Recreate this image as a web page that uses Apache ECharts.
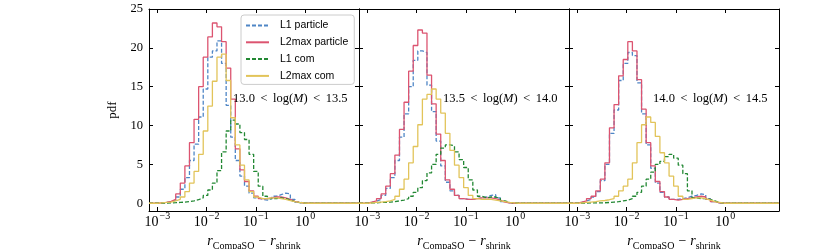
<!DOCTYPE html>
<html><head><meta charset="utf-8">
<script src="https://cdn.jsdelivr.net/npm/echarts@6/dist/echarts.min.js"></script>
<style>html,body{margin:0;padding:0;background:#fff}#c{width:830px;height:249px}</style>
</head><body><div id="c"></div>
<script>
// log10 of histogram bin edges (43 bins)
const binEdgesLog = [-3.000,-2.907,-2.814,-2.721,-2.628,-2.535,-2.442,-2.349,-2.256,-2.163,-2.070,-1.977,-1.884,-1.791,-1.698,-1.605,-1.512,-1.419,-1.326,-1.233,-1.140,-1.047,-0.954,-0.861,-0.768,-0.675,-0.582,-0.489,-0.396,-0.303,-0.210,-0.117,-0.024,0.069,0.162,0.255,0.348,0.441,0.534,0.627,0.720,0.813,0.906,0.999];
const seriesNames = ['L1 particle','L2max particle','L1 com','L2max com'];
const massRanges = [['13.0','13.5'],['13.5','14.0'],['14.0','14.5']];
const xTickExponents = [-3,-2,-1,0];
const yTickValues = [0,5,10,15,20,25];

// Panel 1: 13.0 < log(M) < 13.5
const p1_L1particle   = [0.05,0.1,0.2,0.4,0.8,1.8,3.3,5.5,7.6,11.1,14.7,18.8,19.6,20.9,18.0,12.6,8.5,5.5,3.5,2.2,1.3,0.7,0.5,0.4,0.6,0.9,1.1,1.3,1.2,0.5,0.15,0.05,0,0,0,0,0,0,0,0,0,0,0];
const p1_L2maxparticle= [0.05,0.1,0.25,0.5,1.2,2.6,4.8,7.8,10.8,15.0,18.8,21.4,23.2,22.7,20.8,17.4,13.4,7.0,4.3,2.8,1.6,0.9,0.6,0.6,0.7,0.8,0.8,0.7,0.5,0.25,0.1,0.03,0,0,0,0,0,0,0,0,0,0,0];
const p1_L1com        = [0.02,0.03,0.05,0.07,0.1,0.15,0.2,0.3,0.45,0.7,1.0,1.7,2.6,4.2,6.6,9.3,10.7,10.2,9.1,8.2,6.3,4.1,2.2,0.9,0.6,0.6,0.7,0.6,0.4,0.2,0.08,0.02,0,0,0,0,0,0,0,0,0,0,0];
const p1_L2maxcom     = [0.05,0.1,0.15,0.3,0.5,0.8,1.5,2.6,4.1,6.3,9.3,12.5,15.7,18.8,19.2,15.8,11.0,7.5,4.9,3.0,1.5,0.8,0.6,0.6,0.7,0.7,0.6,0.5,0.35,0.2,0.1,0.03,0,0,0,0,0,0,0,0,0,0,0];

// Panel 2: 13.5 < log(M) < 14.0
const p2_L1particle   = [0.1,0.25,0.5,1.0,1.9,3.3,5.5,8.5,11.5,15.0,18.4,19.6,19.4,15.2,11.8,8.0,4.8,2.7,1.6,1.0,0.6,0.5,0.5,0.6,0.7,0.8,1.0,1.1,0.7,0.2,0.05,0,0,0,0,0,0,0,0,0,0,0,0];
const p2_L2maxparticle= [0.15,0.3,0.6,1.2,2.2,3.8,6.2,9.5,13.0,17.0,20.3,22.3,21.9,16.5,12.8,8.9,5.5,3.0,1.8,1.0,0.6,0.5,0.5,0.6,0.7,0.7,0.7,0.6,0.4,0.15,0.05,0,0,0,0,0,0,0,0,0,0,0,0];
const p2_L1com        = [0.05,0.05,0.1,0.1,0.15,0.2,0.3,0.4,0.6,0.9,1.4,2.0,2.9,3.9,5.0,6.3,7.1,7.5,7.4,6.6,5.6,4.6,3.0,1.7,0.9,0.7,0.8,0.8,0.6,0.3,0.1,0.05,0,0,0,0,0,0,0,0,0,0,0];
const p2_L2maxcom     = [0.05,0.1,0.15,0.2,0.3,0.5,0.9,1.8,3.1,5.2,7.3,10.1,13.4,14.0,14.7,13.4,11.6,9.0,6.8,4.9,3.3,2.0,1.0,0.6,0.5,0.5,0.5,0.4,0.3,0.2,0.1,0.05,0,0,0,0,0,0,0,0,0,0,0];

// Panel 3: 14.0 < log(M) < 14.5
const p3_L1particle   = [0.1,0.3,0.5,0.8,1.5,2.9,5.0,9.0,12.0,15.8,18.0,19.4,19.0,15.5,11.5,7.5,4.5,2.6,1.4,0.8,0.5,0.5,0.6,0.7,0.9,1.0,1.2,1.1,0.6,0.2,0.05,0,0,0,0,0,0,0,0,0,0,0,0];
const p3_L2maxparticle= [0.15,0.3,0.6,0.9,1.6,3.1,5.2,9.7,12.7,16.4,18.5,20.8,19.6,15.9,12.1,7.8,4.8,2.8,1.5,0.8,0.5,0.4,0.5,0.6,0.7,0.8,0.9,0.8,0.5,0.2,0.05,0,0,0,0,0,0,0,0,0,0,0,0];
const p3_L1com        = [0.02,0.03,0.04,0.05,0.05,0.06,0.1,0.15,0.2,0.3,0.4,0.6,0.9,1.4,2.2,3.1,4.0,5.0,5.4,6.0,6.3,5.8,4.9,3.8,1.6,0.7,0.6,0.6,0.5,0.3,0.1,0,0,0,0,0,0,0,0,0,0,0,0];
const p3_L2maxcom     = [0.05,0.1,0.15,0.2,0.3,0.35,0.45,0.6,0.9,1.6,2.2,3.1,5.2,7.8,10.1,11.1,10.4,8.6,6.5,5.2,3.5,2.2,0.9,0.5,0.6,0.7,0.7,0.6,0.4,0.2,0.1,0,0,0,0,0,0,0,0,0,0,0,0];

const panels = [
  [p1_L1particle, p1_L2maxparticle, p1_L1com, p1_L2maxcom],
  [p2_L1particle, p2_L2maxparticle, p2_L1com, p2_L2maxcom],
  [p3_L1particle, p3_L2maxparticle, p3_L1com, p3_L2maxcom]
];

const X_MIN = -3.17, X_MAX = 1.09, Y_MIN = -1, Y_MAX = 25;
const colors = ['#4f86c6','#dc5470','#228833','#e2c45a'];
const dashed = [true,false,true,false];
const SERIF = '"Liberation Serif", "DejaVu Serif", serif';
const SANS = '"Liberation Sans", "DejaVu Sans", sans-serif';

function stepPoints(vals){
  const pts = [[X_MIN,0],[binEdgesLog[0],0]];
  for (let k=0;k<vals.length;k++){
    pts.push([binEdgesLog[k],vals[k]],[binEdgesLog[k+1],vals[k]]);
  }
  pts.push([binEdgesLog[vals.length],0],[X_MAX,0]);
  return pts;
}

const PANEL_LEFT = 149, PANEL_W = 210, TOP = 9, H = 202;
const grids=[], xAxes=[], yAxes=[], series=[], graphics=[];
const tickStyle = {show:true, inside:true, length:4, lineStyle:{color:'#000', width:1}};
const lineStyle = {show:true, onZero:false, lineStyle:{color:'#000', width:1}};
const supRich = {
  b:{fontFamily:SERIF, fontSize:14, color:'#000', verticalAlign:'bottom', padding:[4,0,0,0]},
  s:{fontFamily:SERIF, fontSize:10, color:'#000', verticalAlign:'top', padding:[0,0,0,1]}
};
for (let i=0;i<3;i++){
  grids.push({left:PANEL_LEFT+i*PANEL_W, top:TOP, width:PANEL_W, height:H, containLabel:false, outerBoundsMode:'none'});
  xAxes.push({
    gridIndex:i, type:'value', position:'bottom', min:X_MIN, max:X_MAX,
    axisLine:lineStyle, splitLine:{show:false},
    axisTick:Object.assign({customValues:xTickExponents}, tickStyle),
    axisLabel:{customValues:xTickExponents, margin:0,
      formatter:v=>'{b|10}{s|'+(v<0?'\u2212':'')+Math.abs(v)+'}', rich:supRich},
    name:'{i|r}{sb|CompaSO}{op|\u2212}{i|r}{sb|shrink}', nameLocation:'middle', nameGap:15,
    nameTextStyle:{rich:{
      i:{fontFamily:SERIF, fontStyle:'italic', fontSize:14, color:'#000', verticalAlign:'bottom', padding:[0,0,3,0]},
      sb:{fontFamily:SERIF, fontSize:10, color:'#000', verticalAlign:'bottom'},
      op:{fontFamily:SERIF, fontSize:14, color:'#000', verticalAlign:'bottom', padding:[0,4,3,4]}
    }}
  });
  xAxes.push({
    gridIndex:i, type:'value', position:'top', min:X_MIN, max:X_MAX,
    axisLine:lineStyle, splitLine:{show:false},
    axisTick:Object.assign({customValues:xTickExponents}, tickStyle),
    axisLabel:{show:false}
  });
  const yl = {
    gridIndex:i, type:'value', position:'left', min:Y_MIN, max:Y_MAX,
    axisLine:lineStyle, splitLine:{show:false},
    axisTick:Object.assign({customValues:yTickValues}, tickStyle),
    axisLabel:{show:i===0, customValues:yTickValues, margin:6, fontFamily:SERIF, fontSize:12.5, color:'#000'}
  };
  if (i===0){
    yl.name='pdf'; yl.nameLocation='middle'; yl.nameGap=30; yl.nameRotate=90;
    yl.nameTextStyle={fontFamily:SERIF, fontSize:13, color:'#000'};
  }
  yAxes.push(yl);
  yAxes.push({
    gridIndex:i, type:'value', position:'right', min:Y_MIN, max:Y_MAX,
    axisLine:lineStyle, splitLine:{show:false},
    axisTick:Object.assign({customValues:yTickValues}, tickStyle),
    axisLabel:{show:false}
  });
  panels[i].forEach((vals,j)=>{
    series.push({
      name:seriesNames[j], type:'line', xAxisIndex:i*2, yAxisIndex:i*2,
      data:stepPoints(vals), symbol:'none', showSymbol:false, clip:true,
      lineStyle:{color:colors[j], width:1.3, type:dashed[j]?[4,2]:'solid'},
      itemStyle:{color:colors[j]}, z:2+j
    });
  });
  graphics.push({
    type:'text', x:PANEL_LEFT+i*PANEL_W+84, y:99,
    style:{
      text:massRanges[i][0]+'{rel|<}log({it|M}){rel|<}'+massRanges[i][1],
      font:'12.5px '+SERIF, fill:'#000', align:'left', verticalAlign:'middle',
      rich:{
        rel:{fontFamily:SERIF, fontSize:12.5, fill:'#000', padding:[0,5.5,0,5.5]},
        it:{fontFamily:SERIF, fontSize:12.5, fontStyle:'italic', fill:'#000'}
      }
    }, z:10
  });
}

const chart = echarts.init(document.getElementById('c'), null, {renderer:'canvas'});
chart.setOption({
  animation:false,
  backgroundColor:'#fff',
  grid:grids, xAxis:xAxes, yAxis:yAxes, series:series, graphic:graphics,
  legend:{
    data:seriesNames, orient:'vertical', left:241, top:15,
    itemWidth:23, itemHeight:11, itemGap:5.8,
    padding:[5,6,3,4], borderColor:'#cccccc', borderWidth:1, borderRadius:3,
    backgroundColor:'rgba(255,255,255,0.8)',
    itemStyle:{opacity:0},
    textStyle:{fontFamily:SANS, fontSize:10.5, color:'#000', padding:[0,0,0,6]},
    selectedMode:false
  }
});
</script></body></html>
